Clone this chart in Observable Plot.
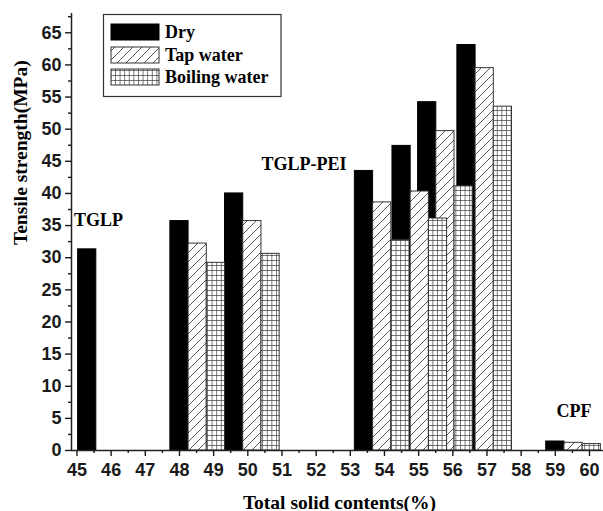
<!DOCTYPE html>
<html><head><meta charset="utf-8">
<script src="https://cdn.jsdelivr.net/npm/d3@7"></script>
<script src="https://cdn.jsdelivr.net/npm/@observablehq/plot@0.6"></script>
<style>body{margin:0;background:#fff}#chart{width:603px;height:511px}</style>
</head><body><div id="chart"></div>
<script>
// Data
const solidContent = [45.3, 48.0, 49.6, 53.4, 54.5, 55.25, 56.4, 59.0];
const dry          = [31.3, 35.7, 40.0, 43.5, 47.4, 54.2, 63.1, 1.4];
const tapWater     = [null, 32.2, 35.7, 38.6, 40.3, 49.7, 59.5, 1.2];
const boilingWater = [null, 29.2, 30.6, 32.7, 36.1, 41.1, 53.5, 1.0];
const seriesNames  = ["Dry", "Tap water", "Boiling water"];
const xTicks = d3.range(45, 61, 1);
const xMinorTicks = d3.range(45.5, 60, 1);
const yTicks = d3.range(0, 70, 5);
const yMinorTicks = d3.range(2.5, 68, 5);
const annotationText = ["TGLP", "TGLP-PEI", "CPF"];
const annotationX = [44.91, 52.89, 59.55];
const annotationY = [35.0, 43.6, 5.2];

const xDomain = [44.84, 60.41];
const yDomain = [0, 68];
const barWidth = 0.533;
const fills = ["#000", "url(#hatch)", "url(#grid)"];
const strokes = ["#000", "#333", "#333"];

const rows = [];
[dry, tapWater, boilingWater].forEach((vals, s) =>
  vals.forEach((v, i) => { if (v != null) rows.push({series: s, x: solidContent[i], v}); }));

const barMarks = [0, 1, 2].map(s => Plot.rect(rows.filter(r => r.series === s), {
  x1: d => d.x - barWidth / 2 + s * barWidth,
  x2: d => d.x + barWidth / 2 + s * barWidth,
  y1: 0, y2: "v",
  fill: fills[s], stroke: strokes[s], strokeWidth: 1
}));

const anchors = ["start", "end", "middle"];
const annotationMarks = annotationText.map((t, i) => Plot.text([t], {
  x: () => annotationX[i], y: () => annotationY[i], text: d => d,
  textAnchor: anchors[i], lineAnchor: "bottom",
  fontFamily: "Liberation Serif", fontWeight: "bold", fontSize: 18, fill: "#000"
}));

const plot = Plot.plot({
  width: 603, height: 511,
  marginLeft: 71, marginRight: 0, marginTop: 13, marginBottom: 61,
  x: {domain: xDomain, label: null},
  y: {domain: yDomain, label: null},
  style: {fontFamily: "'Liberation Sans', Arial, sans-serif", fontSize: "18px", fontWeight: "bold", color: "#1a1a1a", background: "#fff"},
  marks: [
    ...barMarks,
    Plot.ruleY([0], {stroke: "#222", strokeWidth: 1.5}),
    Plot.ruleX([xDomain[0]], {stroke: "#222", strokeWidth: 1.5}),
    Plot.axisX({ticks: xTicks, tickSize: 6, tickPadding: 7, label: null, strokeWidth: 1.4, tickFormat: d => d}),
    Plot.axisX({ticks: xMinorTicks, tickSize: 3, label: null, strokeWidth: 1.4, tickFormat: () => ""}),
    Plot.axisY({ticks: yTicks, tickSize: 6, tickPadding: 4, label: null, strokeWidth: 1.4, tickFormat: d => d}),
    Plot.axisY({ticks: yMinorTicks, tickSize: 3, label: null, strokeWidth: 1.4, tickFormat: () => ""}),
    ...annotationMarks,
    Plot.text(["Total solid contents(%)"], {frameAnchor: "bottom", dx: 2, dy: 58, lineAnchor: "bottom", text: d => d,
      fontFamily: "Liberation Serif", fontWeight: "bold", fontSize: 19.5, fill: "#000"}),
    Plot.text(["Tensile strength(MPa)"], {frameAnchor: "left", rotate: -90, dx: -45, dy: 13, lineAnchor: "bottom", text: d => d,
      fontFamily: "Liberation Serif", fontWeight: "bold", fontSize: 19.5, fill: "#000"})
  ]
});

const svg = d3.select(plot);
const defs = svg.insert("defs", ":first-child");
const hatch = defs.append("pattern").attr("id", "hatch").attr("patternUnits", "userSpaceOnUse")
  .attr("width", 9).attr("height", 9);
hatch.append("rect").attr("width", 9).attr("height", 9).attr("fill", "#fff");
hatch.append("path").attr("d", "M-1,1 L1,-1 M0,9 L9,0 M8,10 L10,8").attr("stroke", "#444").attr("stroke-width", 0.9);
const grid = defs.append("pattern").attr("id", "grid").attr("patternUnits", "userSpaceOnUse")
  .attr("width", 4.6).attr("height", 5);
grid.append("rect").attr("width", 4.6).attr("height", 5).attr("fill", "#fff");
grid.append("path").attr("d", "M0.4,0 V5 M0,0.4 H4.6").attr("stroke", "#444").attr("stroke-width", 0.8);

// Legend box
const lg = svg.append("g").attr("class", "legend").attr("text-anchor", "start");
lg.append("rect").attr("x", 103.5).attr("y", 14.5).attr("width", 177.5).attr("height", 82)
  .attr("fill", "#fff").attr("stroke", "#333").attr("stroke-width", 1.2);
const rowY = [24, 47, 69];
const baseY = [37.5, 60.5, 83];
seriesNames.forEach((name, i) => {
  lg.append("rect").attr("x", 111).attr("y", rowY[i]).attr("width", 48).attr("height", 16)
    .attr("fill", fills[i]).attr("stroke", strokes[i]).attr("stroke-width", 1);
  lg.append("text").attr("x", 165).attr("y", baseY[i]).text(name).attr("text-anchor", "start")
    .attr("font-family", "Liberation Serif").attr("font-weight", "bold").attr("font-size", 18).attr("fill", "#000");
});

document.getElementById("chart").appendChild(plot);
</script>
</body></html>
